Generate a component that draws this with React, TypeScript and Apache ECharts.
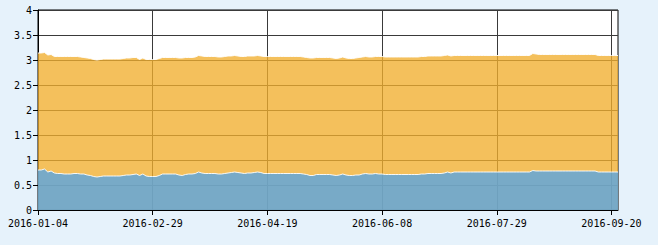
import React, { useEffect, useRef } from "react";
import * as echarts from "echarts";

// Chinese A-share trading days from 2016-01-04 (weekends and exchange holidays skipped)
const startDate = "2016-01-04";
const pointCount = 178;
const holidays = [
  "2016-02-08", "2016-02-09", "2016-02-10", "2016-02-11", "2016-02-12",
  "2016-04-04", "2016-05-02", "2016-06-09", "2016-06-10",
  "2016-09-15", "2016-09-16",
];

function buildDates(): string[] {
  const out: string[] = [];
  const d = new Date(startDate + "T00:00:00Z");
  while (out.length < pointCount) {
    const s = d.toISOString().slice(0, 10);
    const wd = d.getUTCDay();
    if (wd !== 0 && wd !== 6 && holidays.indexOf(s) < 0) out.push(s);
    d.setUTCDate(d.getUTCDate() + 1);
  }
  return out;
}
const dates = buildDates();

const blueValues = [
  0.80, 0.80, 0.82, 0.76, 0.78, 0.74, 0.73, 0.73, 0.72, 0.72,
  0.72, 0.73, 0.73, 0.72, 0.72, 0.70, 0.69, 0.67, 0.66, 0.67,
  0.68, 0.68, 0.68, 0.68, 0.68, 0.68, 0.69, 0.70, 0.70, 0.71,
  0.72, 0.69, 0.72, 0.68, 0.67, 0.67, 0.67, 0.69, 0.72, 0.72,
  0.72, 0.72, 0.72, 0.70, 0.69, 0.71, 0.72, 0.72, 0.73, 0.76,
  0.74, 0.73, 0.73, 0.73, 0.73, 0.72, 0.72, 0.73, 0.74, 0.75,
  0.76, 0.75, 0.74, 0.73, 0.74, 0.74, 0.75, 0.76, 0.75, 0.73,
  0.73, 0.73, 0.73, 0.73, 0.73, 0.73, 0.73, 0.73, 0.73, 0.73,
  0.73, 0.72, 0.71, 0.69, 0.69, 0.71, 0.71, 0.71, 0.71, 0.71,
  0.70, 0.69, 0.70, 0.72, 0.70, 0.69, 0.69, 0.70, 0.70, 0.72,
  0.73, 0.72, 0.72, 0.73, 0.72, 0.72, 0.71, 0.71, 0.71, 0.71,
  0.71, 0.71, 0.71, 0.71, 0.71, 0.71, 0.71, 0.72, 0.72, 0.73,
  0.73, 0.73, 0.73, 0.73, 0.74, 0.76, 0.74, 0.76, 0.76, 0.76,
  0.76, 0.76, 0.76, 0.76, 0.76, 0.76, 0.76, 0.76, 0.76, 0.76,
  0.76, 0.76, 0.76, 0.76, 0.76, 0.76, 0.76, 0.76, 0.76, 0.76,
  0.76, 0.79, 0.78, 0.78, 0.78, 0.78, 0.78, 0.78, 0.78, 0.78,
  0.78, 0.78, 0.78, 0.78, 0.78, 0.78, 0.78, 0.78, 0.78, 0.78,
  0.78, 0.76, 0.76, 0.76, 0.76, 0.76, 0.76, 0.76,
];

const orangeValues = [
  2.34, 2.34, 2.33, 2.34, 2.33, 2.33, 2.34, 2.34, 2.35, 2.35,
  2.35, 2.34, 2.34, 2.34, 2.33, 2.34, 2.34, 2.34, 2.34, 2.34,
  2.34, 2.34, 2.34, 2.34, 2.34, 2.34, 2.34, 2.34, 2.34, 2.34,
  2.33, 2.32, 2.32, 2.33, 2.34, 2.34, 2.34, 2.34, 2.33, 2.33,
  2.33, 2.33, 2.33, 2.34, 2.35, 2.34, 2.33, 2.33, 2.33, 2.33,
  2.34, 2.34, 2.34, 2.34, 2.34, 2.34, 2.34, 2.34, 2.34, 2.33,
  2.33, 2.33, 2.33, 2.34, 2.34, 2.34, 2.33, 2.33, 2.33, 2.34,
  2.34, 2.34, 2.34, 2.34, 2.34, 2.34, 2.34, 2.34, 2.34, 2.34,
  2.34, 2.34, 2.34, 2.35, 2.35, 2.34, 2.34, 2.34, 2.34, 2.34,
  2.34, 2.34, 2.34, 2.34, 2.34, 2.34, 2.34, 2.34, 2.35, 2.34,
  2.34, 2.34, 2.34, 2.34, 2.35, 2.35, 2.35, 2.35, 2.35, 2.35,
  2.35, 2.35, 2.35, 2.35, 2.35, 2.35, 2.35, 2.35, 2.35, 2.35,
  2.35, 2.35, 2.35, 2.35, 2.35, 2.34, 2.34, 2.33, 2.33, 2.33,
  2.33, 2.33, 2.33, 2.33, 2.33, 2.33, 2.33, 2.33, 2.33, 2.33,
  2.33, 2.33, 2.33, 2.33, 2.33, 2.33, 2.33, 2.33, 2.33, 2.33,
  2.33, 2.34, 2.34, 2.33, 2.33, 2.33, 2.33, 2.33, 2.33, 2.33,
  2.33, 2.33, 2.33, 2.33, 2.33, 2.33, 2.33, 2.33, 2.33, 2.33,
  2.33, 2.33, 2.33, 2.33, 2.33, 2.33, 2.33, 2.33,
];

const yMin = 0;
const yMax = 4;
const yInterval = 0.5;
const labelEvery = 35;

export default function App() {
  const ref = useRef<HTMLDivElement>(null);
  useEffect(() => {
    document.body.style.margin = "0";
    document.body.style.background = "#e6f2fb";
    if (!ref.current) return;
    const chart = echarts.init(ref.current, null, { renderer: "svg" });
    const totals = blueValues.map((b, i) => +(b + orangeValues[i]).toFixed(3));
    const font = "'DejaVu Sans Mono', monospace";
    chart.setOption({
      animation: false,
      backgroundColor: "#e6f2fb",
      grid: {
        left: 38,
        right: 40,
        top: 10,
        bottom: 35,
        show: true,
        backgroundColor: "#ffffff",
        borderColor: "#000",
        borderWidth: 1,
      },
      xAxis: {
        type: "category",
        data: dates,
        boundaryGap: false,
        axisLine: { lineStyle: { color: "#000", width: 1 } },
        axisTick: { show: true, interval: labelEvery - 1, length: 5, lineStyle: { color: "#000" } },
        axisLabel: {
          interval: labelEvery - 1,
          color: "#000",
          fontFamily: font,
          fontSize: 10,
          margin: 8,
        },
        splitLine: { show: true, interval: labelEvery - 1, lineStyle: { color: "#3a3a3a", width: 1 } },
      },
      yAxis: {
        type: "value",
        min: yMin,
        max: yMax,
        interval: yInterval,
        axisLine: { show: true, lineStyle: { color: "#000", width: 1 } },
        axisTick: { show: true, length: 5, lineStyle: { color: "#000" } },
        axisLabel: { color: "#000", fontFamily: font, fontSize: 10, margin: 6 },
        splitLine: { show: true, lineStyle: { color: "#3a3a3a", width: 1 } },
      },
      series: [
        {
          type: "line",
          data: totals,
          showSymbol: false,
          symbol: "none",
          lineStyle: { color: "#ffffff", width: 1, opacity: 0.9 },
          areaStyle: { color: "#f1ae2e", opacity: 0.78 },
          z: 2,
        },
        {
          type: "line",
          data: blueValues,
          showSymbol: false,
          symbol: "none",
          lineStyle: { color: "#ffffff", width: 1, opacity: 0.9 },
          areaStyle: { color: "#55a4e6", opacity: 0.78 },
          z: 3,
        },
      ],
    });
    return () => chart.dispose();
  }, []);
  return <div ref={ref} style={{ width: 658, height: 245 }} />;
}
